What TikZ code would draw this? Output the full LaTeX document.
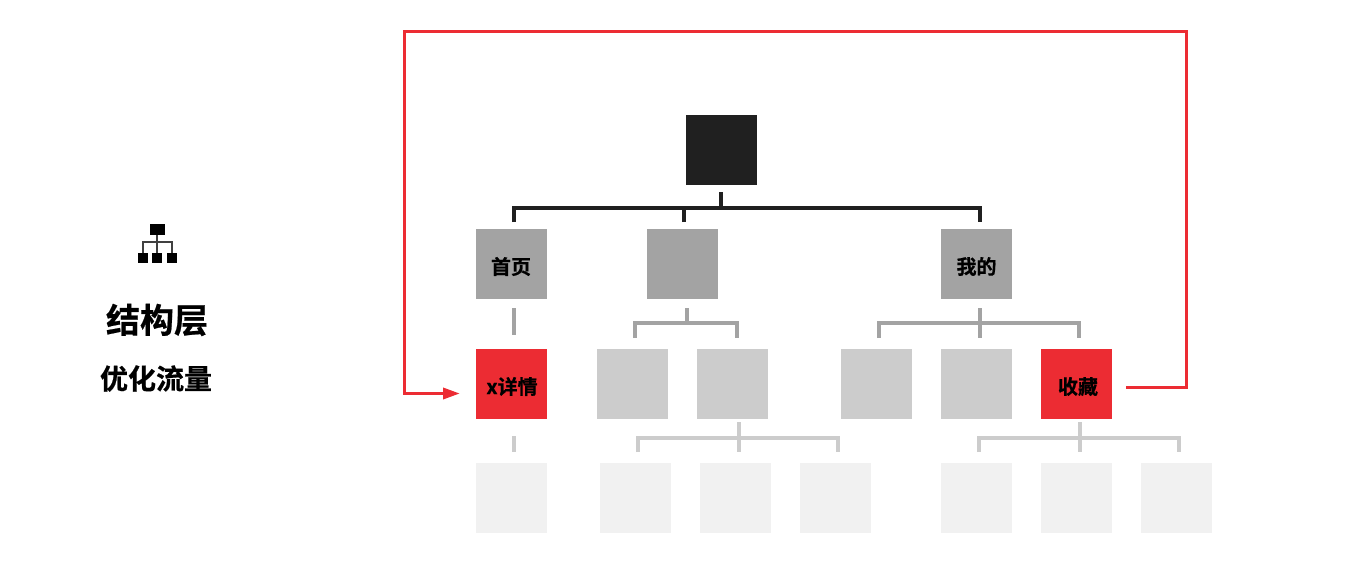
\documentclass[tikz,border=0pt]{standalone}
\usepackage{fontspec}
\setmainfont{Noto Sans CJK SC}[BoldFont={Noto Sans CJK SC Bold},BoldFeatures={FakeBold=0.6}]
\usetikzlibrary{arrows.meta}
\definecolor{cdark}{HTML}{202020}
\definecolor{cmid}{HTML}{A3A3A3}
\definecolor{clight}{HTML}{CCCCCC}
\definecolor{cpale}{HTML}{F1F1F1}
\definecolor{cred}{HTML}{EC2C33}
\tikzset{
  cell/.style={minimum width=71pt,minimum height=70pt,inner sep=0pt,outer sep=0pt},
  rootcell/.style={cell,fill=cdark},
  midcell/.style={cell,fill=cmid},
  lightcell/.style={cell,fill=clight},
  palecell/.style={cell,fill=cpale},
  redcell/.style={cell,fill=cred},
  celltext/.style={inner sep=0pt,font=\bfseries\fontsize{20}{20}\selectfont,text=black},
  lkdark/.style={draw=cdark,line width=4pt},
  lkmid/.style={draw=cmid,line width=4pt},
  lklight/.style={draw=clight,line width=4pt},
  lkred/.style={draw=cred,line width=3.4pt},
  icon/.style={fill=black,draw=none,inner sep=0pt,outer sep=0pt},
  title/.style={inner sep=0pt,font=\bfseries\fontsize{34}{34}\selectfont},
  subtitle/.style={inner sep=0pt,font=\bfseries\fontsize{28}{28}\selectfont},
}
\begin{document}
\begin{tikzpicture}[x=1pt,y=-1pt]
\useasboundingbox (0,0) rectangle (1363,570);
% boxes
\node[rootcell] (root) at (721.5,150) {};
\node[midcell] (home) at (511.5,264) {};
\node[midcell] (mid) at (682.5,264) {};
\node[midcell] (mine) at (976.5,264) {};
\node[redcell] (detail) at (511.5,384) {};
\node[lightcell] (c1) at (632.5,384) {};
\node[lightcell] (c2) at (732.5,384) {};
\node[lightcell] (c3) at (876.5,384) {};
\node[lightcell] (c4) at (976.5,384) {};
\node[redcell] (fav) at (1076.5,384) {};
\node[palecell] (d0) at (511.5,498) {};
\node[palecell] (d1) at (635.5,498) {};
\node[palecell] (d2) at (735.5,498) {};
\node[palecell] (d3) at (835.5,498) {};
\node[palecell] (d4) at (976.5,498) {};
\node[palecell] (d5) at (1076.5,498) {};
\node[palecell] (d6) at (1176.5,498) {};
% box labels
\node[celltext] (t1) at (511,266.5) {首页};
\node[celltext] (t2) at (976.5,266.5) {我的};
\node[celltext] (t3) at (512,386.5) {x详情};
\node[celltext] (t4) at (1078,386.5) {收藏};
% tree 1
\coordinate (a0) at (720.5,192); \coordinate (a1) at (720.5,208);
\coordinate (a2) at (514,222); \coordinate (a3) at (514,208);
\coordinate (a4) at (980,222); \coordinate (a5) at (980,208);
\coordinate (a6) at (683.5,222); \coordinate (a7) at (683.5,208);
\draw[lkdark] (a0) -- (a1);
\draw[lkdark,line join=miter] (a2) -- (a3) -- (a5) -- (a4);
\draw[lkdark] (a6) -- (a7);
% tree 2
\coordinate (b0) at (514,308); \coordinate (b1) at (514,335);
\draw[lkmid] (b0) -- (b1);
\coordinate (b2) at (686.5,308); \coordinate (b3) at (686.5,323);
\coordinate (b4) at (635,338); \coordinate (b5) at (635,323);
\coordinate (b6) at (737,338); \coordinate (b7) at (737,323);
\draw[lkmid] (b2) -- (b3);
\draw[lkmid] (b4) -- (b5) -- (b7) -- (b6);
\coordinate (b8) at (980,308); \coordinate (b9) at (980,338);
\coordinate (b10) at (879,338); \coordinate (b11) at (879,323);
\coordinate (b12) at (1079,338); \coordinate (b13) at (1079,323);
\draw[lkmid] (b8) -- (b9);
\draw[lkmid] (b10) -- (b11) -- (b13) -- (b12);
% tree 3
\coordinate (e0) at (514,436); \coordinate (e1) at (514,452);
\draw[lklight] (e0) -- (e1);
\coordinate (e2) at (739,422); \coordinate (e3) at (739,452);
\coordinate (e4) at (638,452); \coordinate (e5) at (638,438);
\coordinate (e6) at (838,452); \coordinate (e7) at (838,438);
\draw[lklight] (e2) -- (e3);
\draw[lklight] (e4) -- (e5) -- (e7) -- (e6);
\coordinate (e8) at (1080,422); \coordinate (e9) at (1080,452);
\coordinate (e10) at (979,452); \coordinate (e11) at (979,438);
\coordinate (e12) at (1179,452); \coordinate (e13) at (1179,438);
\draw[lklight] (e8) -- (e9);
\draw[lklight] (e10) -- (e11) -- (e13) -- (e12);
% red loop
\coordinate (r0) at (1126,387.5); \coordinate (r1) at (1186.5,387.5);
\coordinate (r2) at (1186.5,31.5); \coordinate (r3) at (404.5,31.5);
\coordinate (r4) at (404.5,393.5); \coordinate (r5) at (460,393.5);
\draw[lkred,line join=miter,-{Triangle[length=17pt,width=11pt]}] (r0) -- (r1) -- (r2) -- (r3) -- (r4) -- (r5);
% icon
\fill[icon] (149.5,223.5) rectangle (164.5,235);
\fill[icon] (138,253) rectangle (148,263);
\fill[icon] (152,253) rectangle (162,263);
\fill[icon] (167,253) rectangle (177,263);
\coordinate (i0) at (157,235); \coordinate (i1) at (157,253);
\coordinate (i2) at (143,253); \coordinate (i3) at (143,241.5);
\coordinate (i4) at (172,253); \coordinate (i5) at (172,241.5);
\draw[black!75,line width=2pt] (i0) -- (i1);
\draw[black!75,line width=2pt] (i2) -- (i3) -- (i5) -- (i4);
% titles
\node[title] (ttl) at (157,320) {结构层};
\node[subtitle] (sub) at (156,378.5) {优化流量};
\end{tikzpicture}
\end{document}
